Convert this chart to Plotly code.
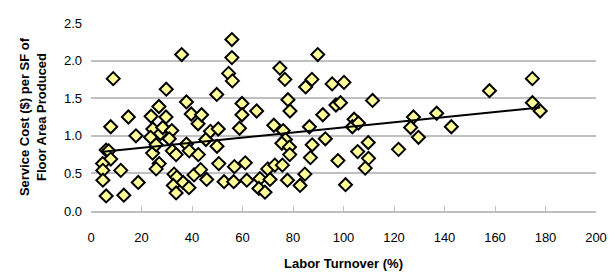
import numpy as np
import plotly.graph_objects as go

# Labor turnover (%) and service cost ($ per SF of floor area produced)
labor_turnover = [
    8.8, 7.8, 6.0, 7.0, 7.8, 4.6, 4.7, 4.7, 6.0, 11.8,
    13.0, 14.8, 17.8, 18.7, 23.8, 26.9, 29.8, 29.7, 24.5, 23.6,
    27.5, 28.4, 32.0, 31.0, 24.4, 25.8, 27.0, 25.8, 32.2, 33.7,
    32.9, 34.0, 32.6, 33.7, 35.9, 37.8, 39.7, 42.4, 43.8, 36.5,
    38.8, 40.8, 37.8, 38.9, 42.5, 43.4, 45.8, 45.5, 47.3, 50.4,
    49.9, 49.8, 50.6, 52.7, 55.8, 55.8, 54.5, 56.0, 59.8, 59.8,
    65.6, 58.8, 56.8, 61.1, 56.5, 61.7, 66.9, 66.5, 68.9, 70.0,
    72.8, 75.8, 70.9, 77.8, 82.8, 84.7, 86.9, 87.6, 86.5, 91.8,
    92.8, 74.8, 76.8, 78.0, 78.8, 72.4, 76.1, 77.0, 75.6, 78.6,
    78.7, 85.0, 87.5, 89.8, 95.5, 100.2, 97.0, 98.8, 111.5, 104.2,
    103.5, 105.9, 97.8, 100.8, 105.6, 109.8, 109.9, 108.6, 121.8, 127.7,
    126.6, 129.7, 136.9, 142.7, 157.8, 174.8, 174.8, 177.9,
]
service_cost = [
    1.76, 1.12, 0.81, 0.80, 0.69, 0.63, 0.54, 0.41, 0.20, 0.54,
    0.21, 1.25, 1.00, 0.38, 1.26, 1.39, 1.62, 1.25, 1.09, 0.98,
    1.03, 1.11, 1.07, 0.96, 0.77, 0.88, 0.63, 0.56, 0.80, 0.75,
    0.49, 0.45, 0.34, 0.24, 2.08, 1.45, 1.29, 1.16, 1.28, 0.38,
    0.31, 0.48, 0.89, 0.80, 0.75, 0.55, 0.42, 0.95, 1.06, 1.09,
    0.86, 1.55, 0.63, 0.39, 2.28, 2.04, 1.83, 1.73, 1.43, 1.28,
    1.33, 1.10, 0.59, 0.64, 0.39, 0.41, 0.43, 0.30, 0.25, 0.56,
    0.61, 0.61, 0.42, 0.41, 0.34, 0.49, 0.71, 0.88, 1.12, 1.28,
    0.96, 1.90, 1.75, 1.48, 1.33, 1.14, 1.07, 0.95, 0.90, 0.85,
    0.75, 1.65, 1.75, 2.08, 1.69, 1.71, 1.41, 1.44, 1.47, 1.22,
    1.12, 1.17, 0.67, 0.35, 0.79, 0.91, 0.70, 0.57, 0.82, 1.25,
    1.11, 0.98, 1.30, 1.12, 1.60, 1.76, 1.44, 1.33,
]

x_ticks = [0, 20, 40, 60, 80, 100, 120, 140, 160, 180, 200]
y_ticks = [0.0, 0.5, 1.0, 1.5, 2.0, 2.5]

# Linear trend line computed from the data
slope, intercept = np.polyfit(labor_turnover, service_cost, 1)
trend_x = [min(labor_turnover), max(labor_turnover)]
trend_y = [slope * v + intercept for v in trend_x]

fig = go.Figure()
fig.add_trace(go.Scatter(
    x=labor_turnover, y=service_cost, mode="markers",
    marker=dict(symbol="diamond", size=10, color="#FFFF99",
                line=dict(color="black", width=2)),
    showlegend=False, hoverinfo="x+y",
))
fig.add_trace(go.Scatter(
    x=trend_x, y=trend_y, mode="lines",
    line=dict(color="black", width=2),
    showlegend=False, hoverinfo="skip",
))

font_family = "Liberation Sans, Arial, sans-serif"
fig.update_layout(
    width=607, height=269,
    margin=dict(l=83, r=14, t=8, b=60),
    paper_bgcolor="white", plot_bgcolor="white",
    font=dict(family=font_family, size=13, color="black"),
    xaxis=dict(
        range=[0, 200], tickvals=x_ticks, ticktext=[str(v) for v in x_ticks],
        showgrid=False, zeroline=False,
        showline=True, linecolor="#c0c0c0", linewidth=2,
        ticks="inside", ticklen=5, tickcolor="#c0c0c0", tickwidth=1,
        ticklabelstandoff=13,
        title=dict(text="<b>Labor Turnover (%)</b>", font=dict(size=13), standoff=15),
    ),
    yaxis=dict(
        range=[0, 2.5], tickvals=y_ticks, ticktext=[f"{v:.1f}" for v in y_ticks],
        showgrid=True, gridcolor="#c0c0c0", gridwidth=2,
        zeroline=False, showline=False, ticks="",
        ticklabelstandoff=8,
        title=dict(text="<b>Service Cost ($) per SF of<br>Floor Area Produced</b>",
                   font=dict(size=13), standoff=14),
    ),
)

fig.write_html("out.html")
